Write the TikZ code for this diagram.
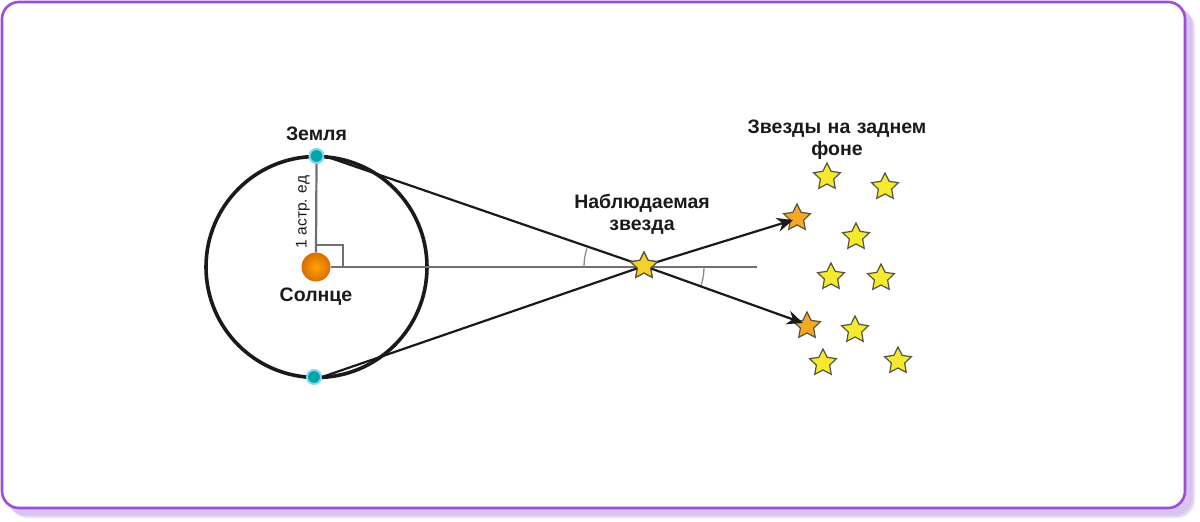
\documentclass[tikz,border=0pt]{standalone}
\usepackage{fontspec}
\setmainfont{Liberation Sans}
\usetikzlibrary{shapes.geometric,arrows.meta}
\definecolor{frameP}{HTML}{9C4FD6}
\definecolor{shadowP}{HTML}{D9C4F1}
\definecolor{lineG}{HTML}{707070}
\definecolor{inkK}{HTML}{1A1A1A}
\definecolor{starY}{HTML}{F6EA2E}
\definecolor{starO}{HTML}{F5A826}
\definecolor{starE}{HTML}{55553F}
\tikzset{
  x=1pt,y=-1pt,
  lab/.style={font=\fontsize{19.5}{23}\selectfont\bfseries,text=inkK,align=center,inner sep=0pt},
  bgstar/.style={star,star points=5,star point ratio=2.0,minimum size=28pt,inner sep=0pt,draw=starE,line width=1.2pt,fill=starY},
  orstar/.style={bgstar,fill=starO},
  earthN/.style={circle,minimum size=14pt,inner sep=0pt,fill=teal!70!cyan,draw=cyan!50!white,line width=2pt},
  sight/.style={draw=inkK,line width=2.2pt},
  sightarrow/.style={sight,-{Stealth[length=16pt,width=14pt]}},
  gry/.style={draw=lineG,line width=2.2pt},
  arcG/.style={draw=lineG!80!white,line width=1.3pt}
}
\begin{document}
\begin{tikzpicture}
\useasboundingbox (0,0) rectangle (1200,522);
\fill[white] (0,0) rectangle (1200,522);
\foreach \o/\c in {10/40,9/65,8/85,7/100}{
  \fill[shadowP!\c!white,rounded corners=18pt] (\o,\o) rectangle (1185+\o,508+\o);
}
\draw[frameP,line width=2.6pt,fill=white,rounded corners=17pt] (2,2) rectangle (1185,508);
% orbit
\node[circle,draw=inkK,line width=3.6pt,minimum size=221pt,inner sep=0pt] (orbit) at (316.5,267) {};
% sun & axes
\coordinate (axisend) at (757,267);
\coordinate (cornerA) at (316,245);
\coordinate (cornerB) at (343,245);
\coordinate (cornerC) at (343,267);
\node[circle,minimum size=29pt,inner sep=0pt,inner color=orange!70!yellow,outer color=orange!85!black] (sun) at (316,267) {};
\node[earthN] (ea) at (316.5,156) {};
\node[earthN] (eb) at (314,377) {};
\draw[gry] (sun.east) -- (axisend);
\draw[gry] (ea.south) -- (sun.north);
\draw[draw=lineG,line width=1.4pt] (cornerA) -- (cornerB) -- (cornerC);
% arcs
\coordinate (obsc) at (644,266);
\draw[arcG] (584,267) arc[start angle=180,end angle=198,radius=60];
\draw[arcG] (704,267) arc[start angle=0,end angle=19,radius=60];
% sight lines
\coordinate (tipa) at (793,220);
\coordinate (tipb) at (803,323);
\node[bgstar,fill=starY!60!starO] (obs) at (obsc) {};
\draw[sight] (ea.east) -- (obs.center);
\draw[sight] (eb.east) -- (obs.center);
\node[orstar] (sa) at (797,218) {};
\node[orstar] (sb) at (807,326) {};
\draw[sightarrow] (obs.center) -- (tipa);
\draw[sightarrow] (obs.center) -- (tipb);
\node[bgstar,fill=starY!60!starO] (obstop) at (obsc) {};
% background stars
\node[bgstar] (s1) at (827,177) {};
\node[bgstar] (s2) at (885,187) {};
\node[bgstar] (s3) at (856,237) {};
\node[bgstar] (s4) at (831,277) {};
\node[bgstar] (s5) at (881,278) {};
\node[bgstar] (s6) at (855,330) {};
\node[bgstar] (s7) at (823,363) {};
\node[bgstar] (s8) at (898,361) {};
% labels
\node[lab] (lz) at (316.5,134) {Земля};
\node[lab] (ls) at (316,297) {Солнце};
\node[lab,text width=190pt] (lo) at (642,214.5) {Наблюдаемая\\[-1pt]звезда};
\node[lab,text width=230pt] (lb) at (837,140) {Звезды на заднем\\[-1pt]фоне};
\node[font=\fontsize{15.5}{18}\selectfont,text=inkK,rotate=90,inner sep=0pt] (lau) at (303,212) {1 астр. ед};
\end{tikzpicture}
\end{document}
